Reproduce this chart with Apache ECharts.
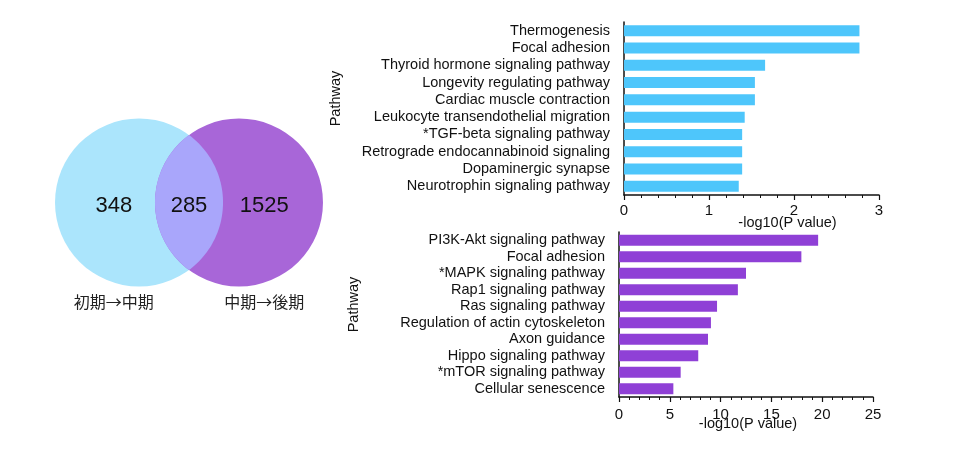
<!DOCTYPE html>
<html><head><meta charset="utf-8">
<script src="https://cdn.jsdelivr.net/npm/echarts@6/dist/echarts.min.js"></script>
<style>html,body{margin:0;padding:0;background:#fff}#c{width:960px;height:454px}</style>
</head><body><div id="c"></div>
<script>
const vennSets = ['初期→中期', '中期→後期'];
const vennUnique = [348, 1525];
const vennShared = [285];

const topPathways = ['Thermogenesis', 'Focal adhesion', 'Thyroid hormone signaling pathway', 'Longevity regulating pathway', 'Cardiac muscle contraction', 'Leukocyte transendothelial migration', '*TGF-beta signaling pathway', 'Retrograde endocannabinoid signaling', 'Dopaminergic synapse', 'Neurotrophin signaling pathway'];
const topValues = [2.77, 2.77, 1.66, 1.54, 1.54, 1.42, 1.39, 1.39, 1.39, 1.35];
const topTicks = [0, 1, 2, 3];

const bottomPathways = ['PI3K-Akt signaling pathway', 'Focal adhesion', '*MAPK signaling pathway', 'Rap1 signaling pathway', 'Ras signaling pathway', 'Regulation of actin cytoskeleton', 'Axon guidance', 'Hippo signaling pathway', '*mTOR signaling pathway', 'Cellular senescence'];
const bottomValues = [19.6, 17.95, 12.5, 11.7, 9.65, 9.05, 8.76, 7.8, 6.07, 5.35];
const bottomTicks = [0, 5, 10, 15, 20, 25];

const FONT = '"Liberation Sans", Arial, "Noto Sans CJK JP", sans-serif';
const CJK = '"Noto Sans CJK JP", "Liberation Sans", sans-serif';
const vennColors = ['#abe5fc', '#a866d8'];
const lensColor = '#a9a6fb';
const OFF = 0.595;

const chart = echarts.init(document.getElementById('c'), null, {renderer: 'canvas'});

function valueAxis(grid, ticks, nameShift, nameGap, labelMargin) {
  return {
    type: 'value', gridIndex: grid,
    min: ticks[0], max: ticks[ticks.length - 1], interval: ticks[1] - ticks[0],
    name: '-log10(P value)', nameLocation: 'middle', nameGap: nameGap, nameMoveOverlap: false,
    nameTextStyle: {fontFamily: FONT, fontSize: 14.5, color: '#111', padding: nameShift},
    axisLine: {show: true, lineStyle: {color: '#111', width: 1.5}},
    axisTick: {show: true, length: 5, lineStyle: {color: '#111', width: 1.2}},
    minorTick: {show: true, splitNumber: 5, length: 3, lineStyle: {color: '#111', width: 1}},
    splitLine: {show: false}, minorSplitLine: {show: false},
    axisLabel: {fontFamily: FONT, fontSize: 15, color: '#111', margin: labelMargin}
  };
}
function catAxis(grid, cats, nameGap) {
  return {
    type: 'category', gridIndex: grid, data: cats, inverse: true,
    name: 'Pathway', nameLocation: 'middle', nameGap: nameGap,
    nameTextStyle: {fontFamily: FONT, fontSize: 14.5, color: '#111', padding: [0, 0, 0, 20]},
    axisLine: {show: true, lineStyle: {color: '#111', width: 1.5}},
    axisTick: {show: false},
    axisLabel: {fontFamily: FONT, fontSize: 14.5, color: '#111', margin: 14, interval: 0}
  };
}

function circleItem(params, api) {
  const i = params.dataIndex;
  const sgn = i === 0 ? -1 : 1;
  const c = api.coord([sgn * OFF, 0]);
  const r = api.size([1, 0])[0];
  const lab = api.coord([sgn * (OFF + 0.3), -0.035]);
  const nm = api.coord([sgn * (OFF + 0.3), -1.18]);
  return {type: 'group', children: [
    {type: 'circle', shape: {cx: c[0], cy: c[1], r: r}, style: {fill: vennColors[i]}, z2: 1},
    {type: 'text', x: lab[0], y: lab[1], z2: 10, style: {text: String(api.value(1)), fill: '#111', fontSize: 22, fontFamily: FONT, align: 'center', verticalAlign: 'middle'}},
    {type: 'text', x: nm[0], y: nm[1], z2: 10, style: {text: vennSets[i], fill: '#222', fontSize: 16, fontFamily: CJK, align: 'center', verticalAlign: 'middle'}}
  ]};
}
function lensItem(params, api) {
  const cl = api.coord([-OFF, 0]);
  const cr = api.coord([OFF, 0]);
  const r = api.size([1, 0])[0];
  const h = (cr[0] - cl[0]) / 2;
  const th = Math.acos(h / r);
  const pts = [];
  const N = 60;
  for (let j = 0; j <= N; j++) {
    const a = -th + 2 * th * j / N;
    pts.push([cl[0] + r * Math.cos(a), cl[1] + r * Math.sin(a)]);
  }
  for (let j = 0; j <= N; j++) {
    const a = th - 2 * th * j / N;
    pts.push([cr[0] - r * Math.cos(a), cr[1] + r * Math.sin(a)]);
  }
  const mid = api.coord([0, -0.035]);
  return {type: 'group', children: [
    {type: 'polygon', shape: {points: pts}, style: {fill: lensColor}},
    {type: 'text', x: mid[0], y: mid[1], z2: 10, style: {text: String(api.value(1)), fill: '#111', fontSize: 22, fontFamily: FONT, align: 'center', verticalAlign: 'middle'}}
  ]};
}

const option = {
  animation: false,
  backgroundColor: '#fff',
  grid: [
    {left: 624, right: 81, top: 22, height: 173},
    {left: 619, right: 87, top: 232, height: 165},
    {left: 21, top: 34.5, width: 336, height: 336}
  ],
  xAxis: [
    valueAxis(0, topTicks, [0, 0, 0, 72], 21, 8),
    valueAxis(1, bottomTicks, [0, 0, 0, 4], 20, 10),
    {type: 'value', gridIndex: 2, min: -2, max: 2, show: false}
  ],
  yAxis: [
    catAxis(0, topPathways, 281),
    catAxis(1, bottomPathways, 258),
    {type: 'value', gridIndex: 2, min: -2, max: 2, show: false}
  ],
  series: [
    {type: 'bar', xAxisIndex: 0, yAxisIndex: 0, data: topValues, barWidth: 11, itemStyle: {color: '#4ec6fb'}},
    {type: 'bar', xAxisIndex: 1, yAxisIndex: 1, data: bottomValues, barWidth: 11, itemStyle: {color: '#8f40d6'}},
    {type: 'custom', xAxisIndex: 2, yAxisIndex: 2, renderItem: circleItem, data: vennUnique.map((v, i) => [i, v]), z: 1},
    {type: 'custom', xAxisIndex: 2, yAxisIndex: 2, renderItem: lensItem, data: vennShared.map(v => [0, v]), z: 2}
  ]
};
chart.setOption(option);
</script>
</body></html>
